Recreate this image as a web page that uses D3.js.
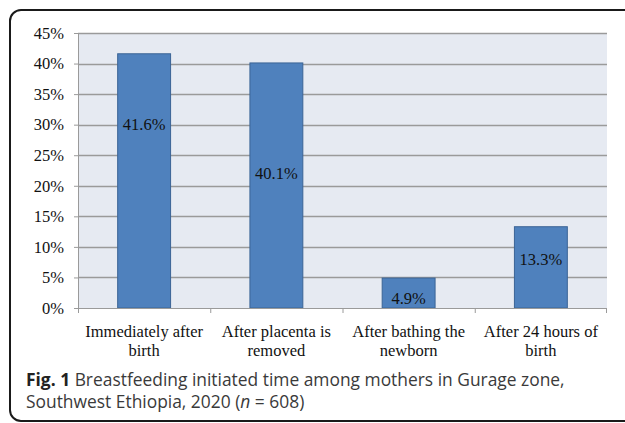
<!DOCTYPE html>
<html>
<head>
<meta charset="utf-8">
<script src="https://cdnjs.cloudflare.com/ajax/libs/d3/7.8.5/d3.min.js"></script>
<style>
  body { margin: 0; background: #fff; }
  svg { display: block; }
</style>
</head>
<body>
<script>
// chart data
var categories = [
  ["Immediately after", "birth"],
  ["After placenta is", "removed"],
  ["After bathing the", "newborn"],
  ["After 24 hours of", "birth"]
];
var values = [41.6, 40.1, 4.9, 13.3];
var yTicks = [0, 5, 10, 15, 20, 25, 30, 35, 40, 45];

// where the value labels sit inside each bar (in % units, as in the original figure)
var labelAt = [30, 22.1, 1.6, 8];

var W = 625, H = 423;
var margin = {top: 33, right: 18, bottom: 115, left: 78},
    width = W - margin.left - margin.right,
    height = H - margin.top - margin.bottom;
var serif = "'Liberation Serif', 'Times New Roman', serif";

var svg = d3.select("body").append("svg")
    .attr("width", W)
    .attr("height", H);

// rounded frame
svg.append("rect")
    .attr("x", 10).attr("y", 10)
    .attr("width", 660).attr("height", 411)
    .attr("rx", 11).attr("ry", 11)
    .attr("fill", "none")
    .attr("stroke", "#1a1a1a")
    .attr("stroke-width", 2);

var g = svg.append("g")
    .attr("transform", "translate(" + margin.left + "," + margin.top + ")");

var x = d3.scaleBand()
    .domain(d3.range(categories.length))
    .range([0, width]);
var y = d3.scaleLinear()
    .domain([0, 45])
    .range([height, 0]);

// plot background
g.append("rect")
    .attr("width", width)
    .attr("height", height)
    .attr("fill", "#e6eaf2");

// gridlines
g.selectAll(".grid")
    .data(yTicks.filter(function(d) { return d > 0; }))
    .enter().append("line")
    .attr("x1", 0).attr("x2", width)
    .attr("y1", function(d) { return Math.round(y(d)) + 0.5; })
    .attr("y2", function(d) { return Math.round(y(d)) + 0.5; })
    .attr("stroke", "#9a9a9a")
    .attr("stroke-width", 1.3);

// bars
var bw = x.bandwidth() / 2.5;
g.selectAll(".bar")
    .data(values)
    .enter().append("rect")
    .attr("class", "bar")
    .attr("x", function(d, i) { return x(i) + (x.bandwidth() - bw) / 2; })
    .attr("width", bw)
    .attr("y", function(d) { return y(d); })
    .attr("height", function(d) { return height - y(d); })
    .attr("fill", "#4f81bd")
    .attr("stroke", "#3b6496")
    .attr("stroke-width", 1);

// value labels
g.selectAll(".label")
    .data(values)
    .enter().append("text")
    .attr("class", "label")
    .attr("x", function(d, i) { return x(i) + x.bandwidth() / 2; })
    .attr("y", function(d, i) { return y(labelAt[i]); })
    .attr("dy", "0.35em")
    .attr("text-anchor", "middle")
    .style("font-family", serif)
    .style("font-size", "16.5px")
    .attr("fill", "#111")
    .text(function(d) { return d.toFixed(1) + "%"; });

// y axis
var yAxis = g.append("g")
    .call(d3.axisLeft(y).tickValues(yTicks).tickSize(4).tickPadding(10)
      .tickFormat(function(d) { return d + "%"; }));
yAxis.select(".domain").attr("stroke", "#9a9a9a").attr("d", "M0.5," + height + "V0");
yAxis.selectAll(".tick line").attr("stroke", "#9a9a9a");
yAxis.selectAll("text")
    .style("font-family", serif)
    .style("font-size", "16.5px")
    .attr("fill", "#111");

// x axis
var xAxis = g.append("g")
    .attr("transform", "translate(0," + height + ")");
xAxis.append("line")
    .attr("x1", 0).attr("x2", width)
    .attr("y1", 0.5).attr("y2", 0.5)
    .attr("stroke", "#9a9a9a");
xAxis.selectAll(".xtick")
    .data(d3.range(categories.length + 1))
    .enter().append("line")
    .attr("x1", function(i) { return i < categories.length ? x(i) + 0.5 : width - 0.5; })
    .attr("x2", function(i) { return i < categories.length ? x(i) + 0.5 : width - 0.5; })
    .attr("y1", 0).attr("y2", 5)
    .attr("stroke", "#9a9a9a");

var xl = xAxis.selectAll(".xlabel")
    .data(categories)
    .enter().append("text")
    .attr("class", "xlabel")
    .attr("x", function(d, i) { return x(i) + x.bandwidth() / 2; })
    .attr("y", 29)
    .attr("text-anchor", "middle")
    .style("font-family", serif)
    .style("font-size", "16.5px")
    .attr("fill", "#111");
xl.append("tspan")
    .attr("x", function(d, i) { return x(i) + x.bandwidth() / 2; })
    .text(function(d) { return d[0]; });
xl.append("tspan")
    .attr("x", function(d, i) { return x(i) + x.bandwidth() / 2; })
    .attr("dy", 19)
    .text(function(d) { return d[1]; });

// caption
var cap = svg.append("text")
    .attr("x", 26).attr("y", 386)
    .style("font-family", "'Open Sans', 'Noto Sans', sans-serif")
    .style("font-size", "17.4px")
    .attr("fill", "#3a3a3a");
cap.append("tspan").style("font-weight", "bold").attr("fill", "#222").text("Fig. 1");
cap.append("tspan").text(" Breastfeeding initiated time among mothers in Gurage zone,");
var cap2 = svg.append("text")
    .attr("x", 26).attr("y", 408)
    .style("font-family", "'Open Sans', 'Noto Sans', sans-serif")
    .style("font-size", "17.4px")
    .attr("fill", "#3a3a3a");
cap2.append("tspan").text("Southwest Ethiopia, 2020 (");
cap2.append("tspan").style("font-style", "italic").text("n");
cap2.append("tspan").text(" = 608)");
</script>
</body>
</html>
